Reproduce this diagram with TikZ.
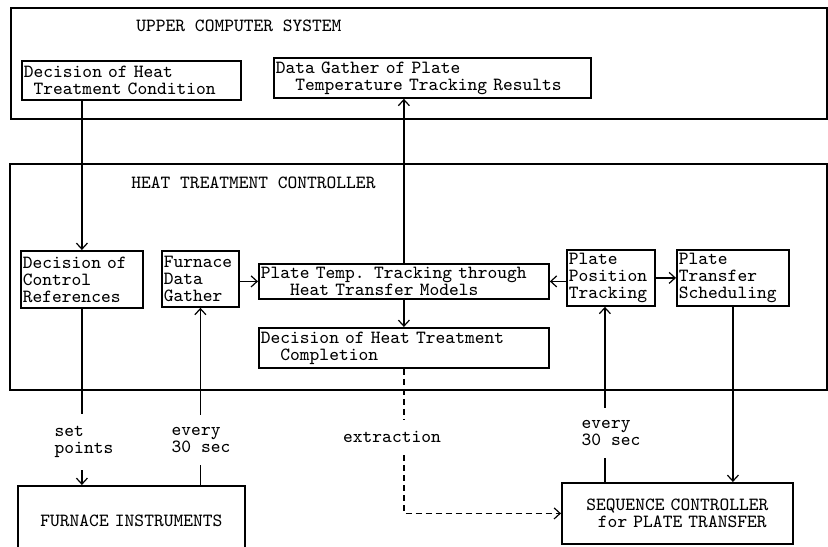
\documentclass[tikz,border=0pt]{standalone}
\usepackage{fontspec}
\usetikzlibrary{arrows.meta,positioning}

\begin{document}
\begin{tikzpicture}[
      x=0.5pt, y=-0.5pt,
      every node/.style={font=\ttfamily\fontsize{9.3}{8.5}\selectfont},
      frame/.style={rectangle, draw, line width=1.2pt, anchor=north west, inner sep=0pt},
      box/.style={rectangle, draw, line width=0.9pt, anchor=north west, align=left, inner xsep=1pt, inner ysep=1pt},
      title/.style={anchor=west, inner sep=0pt},
      note/.style={align=left, inner xsep=1pt, inner ysep=6pt},
      arrow/.style={-{Straight Barb[length=3pt,width=5.5pt]}, line width=0.6pt},
      link/.style={line width=0.6pt}
    ]
      \useasboundingbox (0,0) rectangle (828,546);
      \clip (0,0) rectangle (828,546);

      % upper computer system
      \node[frame, minimum width=408pt, minimum height=55.5pt] (upper) at (10,7) {};
      \node[title] (uppertitle) at (136,26) {UPPER COMPUTER SYSTEM};
      \node[box, text width=107.5pt, minimum height=19.5pt] (condition) at (21,60)
        {Decision of Heat\\\hphantom{x}Treatment Condition};
      \node[box, text width=156.5pt, minimum height=20pt] (results) at (273,57)
        {Data Gather of Plate\\\hphantom{xx}Temperature Tracking Results};

      % heat treatment controller
      \node[frame, minimum width=408.5pt, minimum height=113pt] (controller) at (9,163) {};
      \node[title] (ctrltitle) at (131,183) {HEAT TREATMENT CONTROLLER};
      \node[box, text width=59pt, minimum height=28.5pt] (ctrlref) at (20,250)
        {Decision of\\Control\\References};
      \node[box, text width=36.5pt, minimum height=28pt] (fdg) at (161,250)
        {Furnace\\Data\\Gather};
      \node[box, text width=143pt, minimum height=17.5pt] (tracking) at (258,263)
        {Plate Temp. Tracking through\\\hphantom{xxx}Heat Transfer Models};
      \node[box, text width=143pt, minimum height=20pt] (completion) at (258,327)
        {Decision of Heat Treatment\\\hphantom{xx}Completion};
      \node[box, text width=42pt, minimum height=28pt] (ppt) at (566,249)
        {Plate\\Position\\Tracking};
      \node[box, text width=54pt, minimum height=28pt] (pts) at (676,249)
        {Plate\\Transfer\\Scheduling};

      % field level
      \node[box, align=center, text width=111.5pt, minimum height=35pt] (furnace) at (17,485)
        {FURNACE INSTRUMENTS};
      \node[box, align=center, text width=113.5pt, minimum height=30.5pt] (seqctrl) at (561,482)
        {SEQUENCE CONTROLLER\\\hphantom{x}for PLATE TRANSFER};

      % connector labels
      \node[note] (setpts) at (84,442) {set\\points};
      \node[note] (every1) at (201,440) {every\\30 sec};
      \node[note] (extr) at (392,437) {extraction};
      \node[note] (every2) at (611,433) {every\\30 sec};

      % connectors
      \draw[arrow] (condition.south -| ctrlref.north) -- (ctrlref.north);
      \draw[arrow] (tracking.north) -- (tracking.north |- results.south);
      \draw[arrow] (tracking.south) -- (completion.north);
      \draw[arrow] (fdg.east |- tracking.west) -- (tracking.west);
      \draw[arrow] (ppt.west |- tracking.east) -- (tracking.east);
      \draw[arrow] (ppt.east) -- (pts.west);

      \draw[link] (ctrlref.south) -- (ctrlref.south |- setpts.north);
      \draw[arrow] (ctrlref.south |- setpts.south) -- (ctrlref.south |- furnace.north);

      \draw[link] (furnace.north -| fdg.south) -- (fdg.south |- every1.south);
      \draw[arrow] (fdg.south |- every1.north) -- (fdg.south);

      \draw[link, densely dashed] (completion.south) -- (completion.south |- extr.north);
      \draw[arrow, densely dashed] (completion.south |- extr.south) |- (seqctrl.west);

      \draw[link] ([xshift=-3pt]seqctrl.north -| ppt.south) -- ([xshift=-3pt]ppt.south |- every2.south);
      \draw[arrow] ([xshift=-3pt]ppt.south |- every2.north) -- ([xshift=-3pt]ppt.south);

      \draw[arrow] (pts.south) -- (pts.south |- seqctrl.north);
    \end{tikzpicture}
\end{document}
